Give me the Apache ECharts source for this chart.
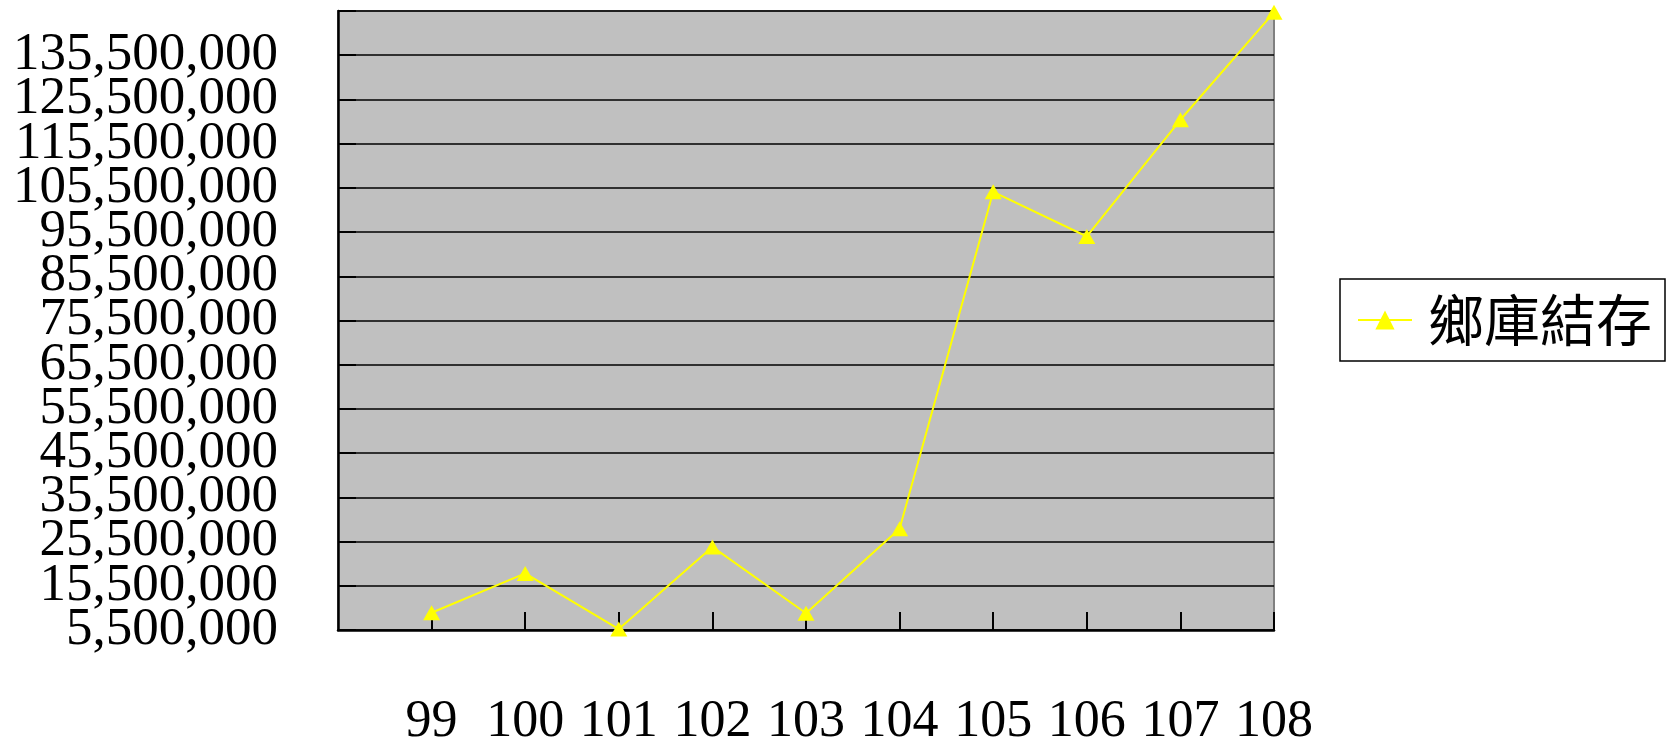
<!DOCTYPE html>
<html>
<head>
<meta charset="utf-8">
<script src="https://cdn.jsdelivr.net/npm/echarts@6/dist/echarts.min.js"></script>
<style>html,body{margin:0;padding:0;background:#fff;}#c{width:1666px;height:749px;}</style>
</head>
<body>
<div id="c"></div>
<script>
const years = [99, 100, 101, 102, 103, 104, 105, 106, 107, 108];
const balance = [9400000, 18300000, 5700000, 24300000, 9300000, 28400000, 104600000, 94500000, 120900000, 145200000];
const seriesName = '鄉庫結存';
const yMin = 5500000, yMax = 145500000, yStep = 10000000;
const xMin = 98, xMax = 108;

const chart = echarts.init(document.getElementById('c'), null, {renderer: 'canvas'});
const serif = '"Liberation Serif", "Times New Roman", serif';
const yLabelBase = {fontFamily: serif, fontSize: 53, color: '#000', margin: 60, hideOverlap: false};
chart.setOption({
  backgroundColor: '#ffffff',
  animation: false,
  grid: {
    left: 338, right: 392, top: 11, bottom: 119,
    show: true, backgroundColor: '#C0C0C0', borderColor: '#808080', borderWidth: 2
  },
  legend: {
    show: true,
    right: 1, top: 279,
    orient: 'vertical',
    backgroundColor: '#fff',
    borderColor: '#000', borderWidth: 1.5,
    borderRadius: 0,
    padding: [13, 13, 13, 17],
    itemWidth: 54, itemHeight: 24,
    textStyle: {fontFamily: '"Noto Sans CJK TC", sans-serif', fontSize: 56, color: '#000', padding: [0, 0, 0, 11]},
    data: [seriesName]
  },
  xAxis: {
    type: 'value', min: xMin, max: xMax, interval: 1,
    axisLine: {show: true, onZero: false, lineStyle: {color: '#000', width: 2.5}},
    axisTick: {show: true, inside: true, length: 18, lineStyle: {color: '#000', width: 2}},
    splitLine: {show: false},
    axisLabel: {
      show: true, margin: 65, showMinLabel: false,
      fontFamily: serif, fontSize: 52, lineHeight: 54, color: '#000',
      formatter: v => years.includes(v) ? String(v) : ''
    }
  },
  yAxis: [{
    type: 'value', min: yMin, max: yMax, interval: yStep, position: 'left',
    axisLine: {show: true, onZero: false, lineStyle: {color: '#000', width: 2.5}},
    axisTick: {show: true, inside: true, length: 18, lineStyle: {color: '#000', width: 2}},
    splitLine: {show: true, lineStyle: {color: '#000', width: 1.6}},
    axisLabel: Object.assign({}, yLabelBase, {
      show: true,
      formatter: v => (v >= yMax || v <= yMin) ? '' : v.toLocaleString('en-US')
    })
  }, {
    type: 'value', min: yMin, max: yMax, interval: yStep, position: 'left', offset: 0,
    axisLine: {show: false},
    axisTick: {show: false},
    splitLine: {show: false},
    axisLabel: Object.assign({}, yLabelBase, {
      show: true, showMinLabel: true,
      formatter: v => v <= yMin ? v.toLocaleString('en-US') : ''
    })
  }],
  series: [{
    name: seriesName,
    type: 'line',
    yAxisIndex: 0,
    data: years.map((y, i) => [y, balance[i]]),
    symbol: 'triangle', symbolSize: [17, 15],
    lineStyle: {color: '#FFFF00', width: 2},
    itemStyle: {color: '#FFFF00'},
    clip: false
  }]
});
</script>
</body>
</html>
